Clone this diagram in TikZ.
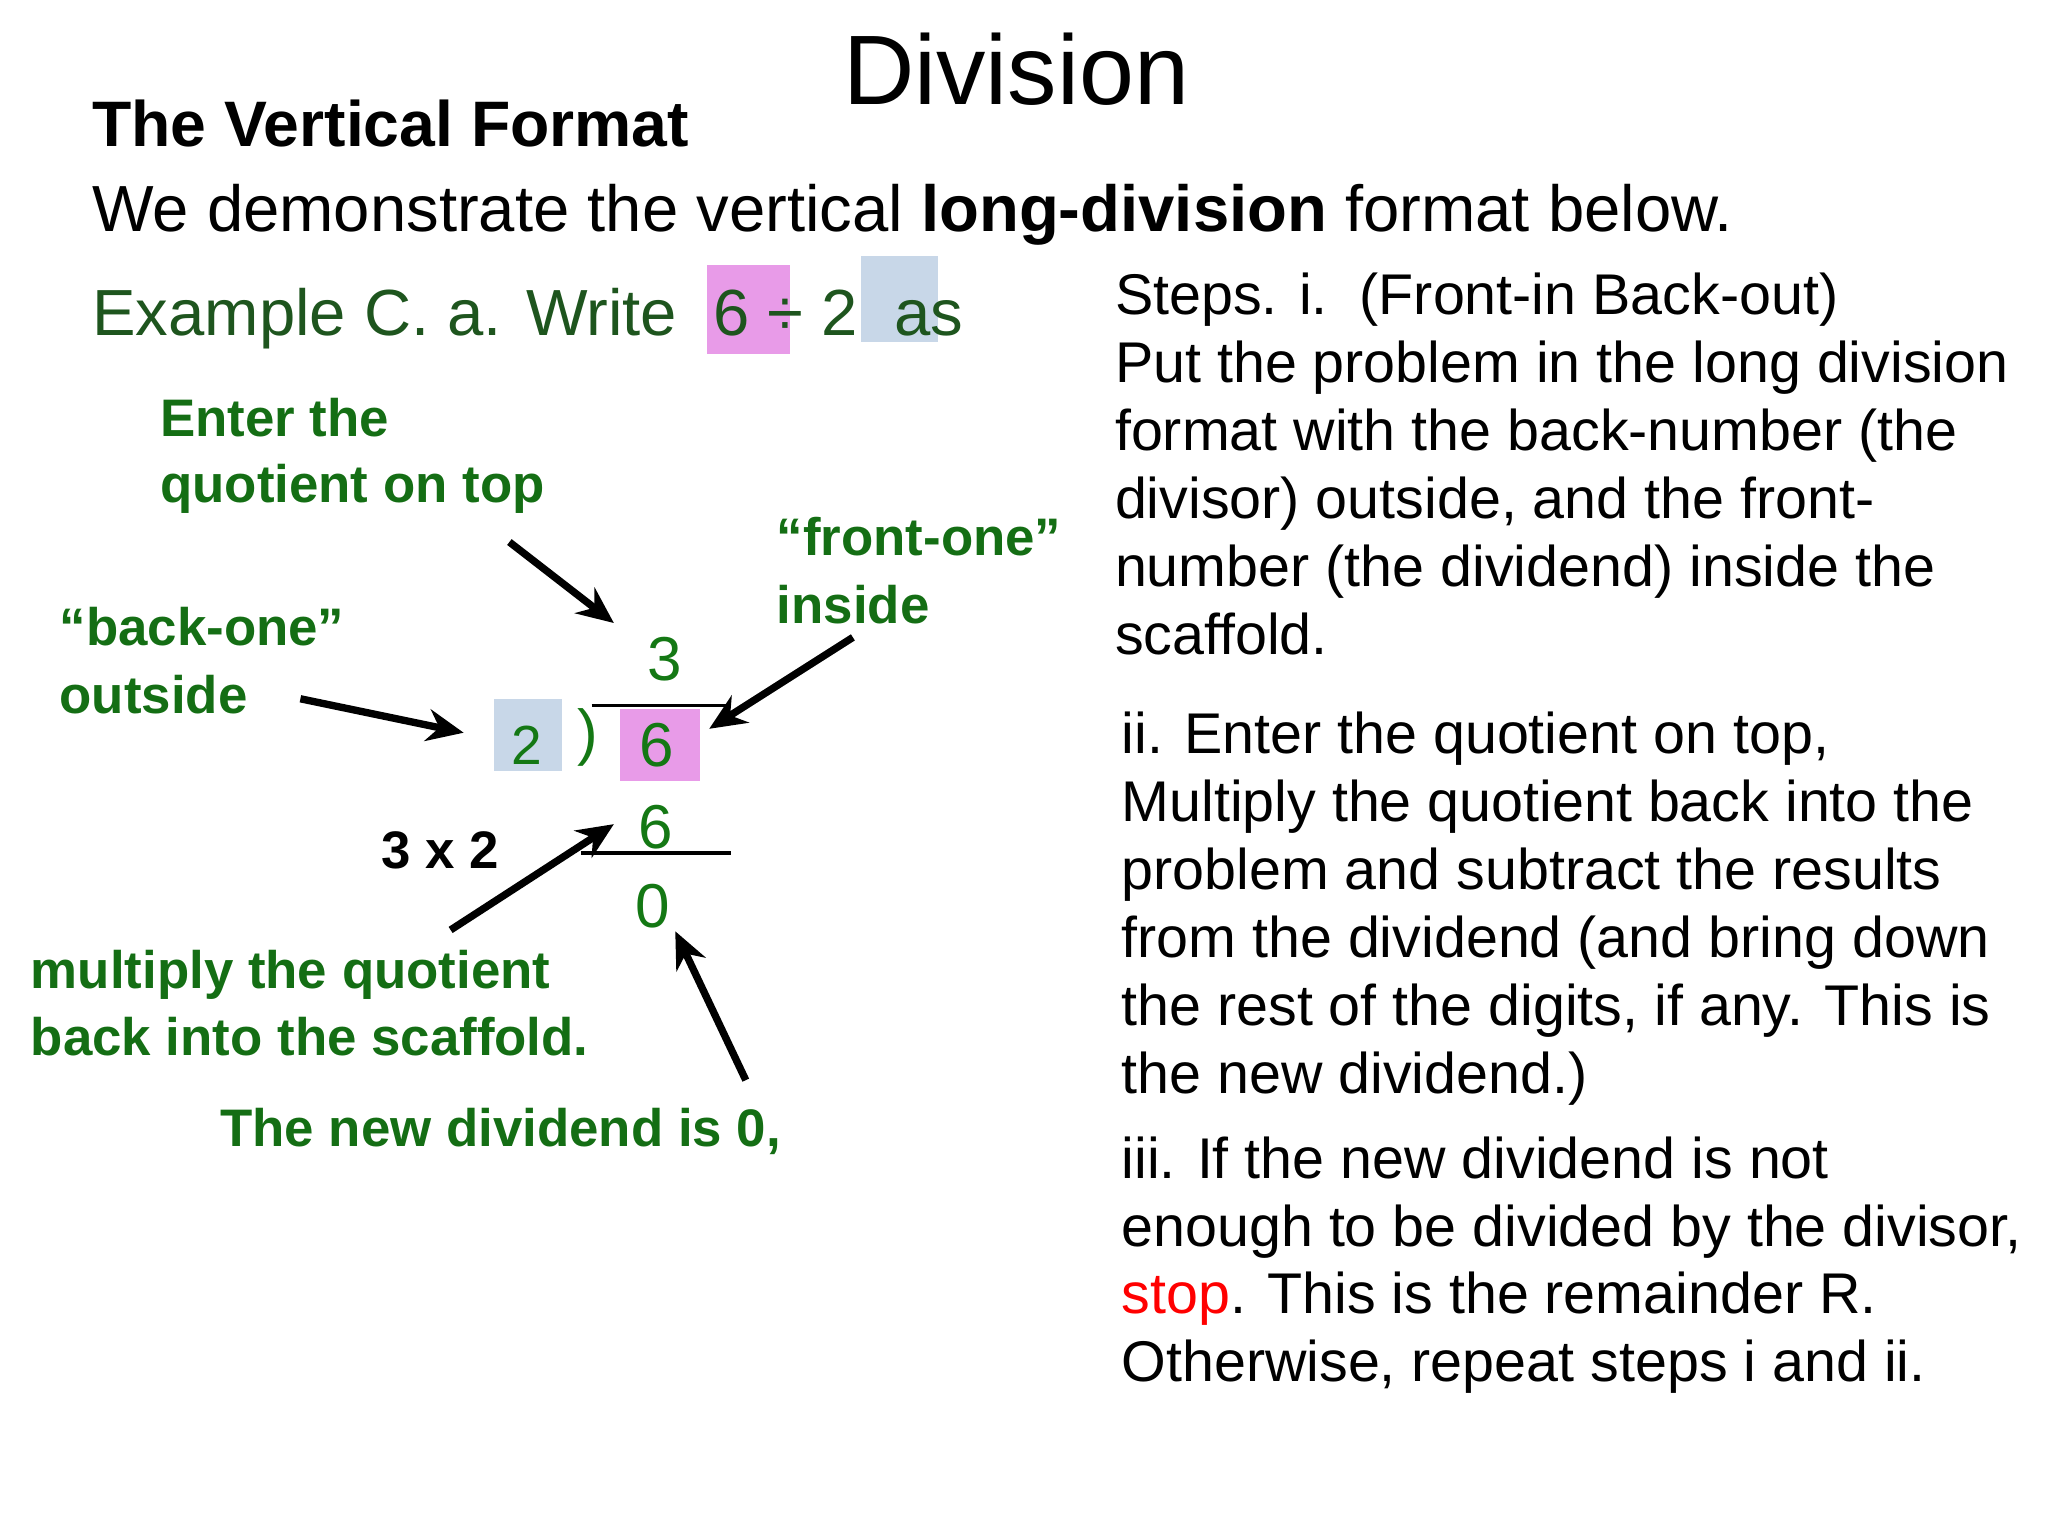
\documentclass[tikz,border=0pt]{standalone}
\usepackage{fontspec}
\usetikzlibrary{arrows.meta}
\setmainfont{Liberation Sans}
\definecolor{gr}{RGB}{20,110,20}
\definecolor{exg}{RGB}{30,85,30}
\definecolor{pk}{RGB}{232,155,232}
\definecolor{bl}{RGB}{200,215,232}
\definecolor{dg}{RGB}{20,120,20}
\begin{document}
\begin{tikzpicture}[x=0.01cm,y=-0.01cm,
  lbl/.style={anchor=base west,inner sep=0,font=\fontsize{11.5}{14}\selectfont\bfseries,text=gr},
  body/.style={anchor=base west,inner sep=0,font=\fontsize{12.5}{15}\selectfont},
  dig/.style={anchor=base,inner sep=0,font=\fontsize{13.5}{16}\selectfont,text=dg},
  arr/.style={-{Stealth[length=8pt,width=7pt]},line width=1.6pt}]
\useasboundingbox (0,0) rectangle (1568,1176);
\fill[white] (0,0) rectangle (1568,1176);
\node[anchor=base,inner sep=0,font=\fontsize{21.5}{25}\selectfont] (title) at (778,80) {Division};
\node[anchor=base west,inner sep=0,font=\fontsize{14}{17}\selectfont\bfseries] (vf) at (70,112) {The Vertical Format};
\node[anchor=base west,inner sep=0,font=\fontsize{14.2}{17}\selectfont] (demo) at (70,177) {We demonstrate the vertical \textbf{long-division} format below.};
\fill[pk] (541,203) rectangle (605,271);
\fill[bl] (659,196) rectangle (718,262);
\node[anchor=base west,inner sep=0,font=\fontsize{14.2}{17}\selectfont,text=exg] (ex) at (70,257) {Example C. a. Write\ \ 6 ÷ 2\ \ as};
% right column
\foreach \t [count=\i from 0] in {Steps. i.\ \ (Front-in Back-out),Put the problem in the long division,format with the back-number (the,{divisor) outside, and the front-},number (the dividend) inside the,scaffold.}
  \node[body] (s\i) at (853,241+52*\i) {\t};
\foreach \t [count=\i from 0] in {{ii. Enter the quotient on top,},Multiply the quotient back into the,problem and subtract the results,from the dividend (and bring down,{the rest of the digits, if any. This is},the new dividend.)}
  \node[body] (t\i) at (858,577+52*\i) {\t};
\node[body] (u0) at (858,902) {iii. If the new dividend is not};
\node[body] (u1) at (858,954) {enough to be divided by the divisor,};
\node[body] (u2) at (858,1006) {\textcolor{red}{stop}. This is the remainder R.};
\node[body] (u3) at (858,1058) {Otherwise, repeat steps i and ii.};
% labels
\node[lbl] (l1) at (122,334) {Enter the};
\node[lbl] (l2) at (122,385) {quotient on top};
\node[lbl] (l3) at (594,425) {“front-one”};
\node[lbl] (l4) at (594,477) {inside};
\node[lbl] (l5) at (45,494) {“back-one”};
\node[lbl] (l6) at (45,546) {outside};
\node[lbl,text=black] (l7) at (291,665) {3 x 2};
\node[lbl] (l8) at (23,757) {multiply the quotient};
\node[lbl] (l9) at (23,808) {back into the scaffold.};
\node[lbl] (l10) at (168,878) {The new dividend is 0,};
% division
\fill[bl] (378,535) rectangle (430,590);
\fill[pk] (475,543) rectangle (536,598);
\node[dig] (q) at (509,521) {3};
\node[dig,font=\fontsize{12}{14}\selectfont] (d2) at (403,585) {2};
\node[dig] (par) at (450,577) {)};
\node[dig] (d6) at (503,587) {6};
\node[dig] (m6) at (502,650) {6};
\node[dig] (z) at (500,710) {0};
\coordinate (b1) at (453,540); \coordinate (b2) at (560,540);
\coordinate (c1) at (445,653); \coordinate (c2) at (560,653);
\draw[line width=0.7pt] (b1) -- (b2);
\draw[line width=0.7pt] (c1) -- (c2);
% arrows
\coordinate (a1) at (390,415); \coordinate (a1e) at (470,477);
\coordinate (a2) at (230,535); \coordinate (a2e) at (355,561);
\coordinate (a3) at (653,488); \coordinate (a3e) at (543,558);
\coordinate (a4) at (345,712); \coordinate (a4e) at (470,631);
\coordinate (a5) at (571,827); \coordinate (a5e) at (517,713);
\draw[arr] (a1) -- (a1e);
\draw[arr] (a2) -- (a2e);
\draw[arr] (a3) -- (a3e);
\draw[arr] (a4) -- (a4e);
\draw[arr] (a5) -- (a5e);
\end{tikzpicture}
\end{document}
